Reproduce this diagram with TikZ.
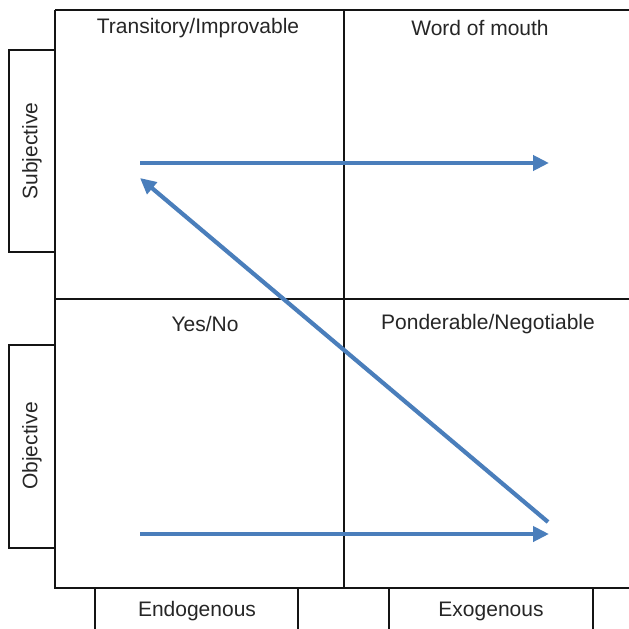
\documentclass[tikz,border=0pt]{standalone}
\usepackage{fontspec}
\setmainfont{Liberation Sans}
\usetikzlibrary{arrows.meta}
\definecolor{flowblue}{RGB}{74,126,187}
\definecolor{frame}{RGB}{20,20,20}
\begin{document}
\begin{tikzpicture}[x=1pt,y=-1pt,
  frameline/.style={draw=frame,line width=1.3pt},
  lbl/.style={font=\fontsize{21}{25}\selectfont,text=black!85,inner sep=0pt},
  flow/.style={draw=flowblue,line width=4.2pt,-{Triangle[length=16pt,width=15pt]}}]
  \useasboundingbox (0,0) rectangle (629,629);
  % main grid
  \draw[frameline] (55,10) -- (629,10);
  \draw[frameline] (55,10) -- (55,588) -- (629,588);
  \draw[frameline] (55,299) -- (629,299);
  \draw[frameline] (344,10) -- (344,588);
  % side boxes
  \draw[frameline] (55,50) -- (9,50) -- (9,252) -- (55,252);
  \draw[frameline] (55,345) -- (9,345) -- (9,548) -- (55,548);
  % bottom boxes
  \draw[frameline] (95,629) -- (95,588);
  \draw[frameline] (298,629) -- (298,588);
  \draw[frameline] (389,629) -- (389,588);
  \draw[frameline] (593,629) -- (593,588);
  % labels
  \node[lbl] (tl) at (198,28) {Transitory/Improvable};
  \node[lbl] (tr) at (480,28) {Word of mouth};
  \node[lbl] (bl) at (205,324) {Yes/No};
  \node[lbl] (br) at (488,324) {Ponderable/Negotiable};
  \node[lbl,rotate=90] (subj) at (32,151) {Subjective};
  \node[lbl,rotate=90] (obj) at (32,446) {Objective};
  \node[lbl] (endo) at (197,611) {Endogenous};
  \node[lbl] (exo) at (491,611) {Exogenous};
  % arrow anchors
  \coordinate (a1) at (140,163);
  \coordinate (a2) at (549,163);
  \coordinate (b1) at (140,534);
  \coordinate (b2) at (549,534);
  \coordinate (d1) at (548,522);
  \coordinate (d2) at (140,178);
  \draw[flow] (a1) -- (a2);
  \draw[flow] (b1) -- (b2);
  \draw[flow] (d1) -- (d2);
\end{tikzpicture}
\end{document}
